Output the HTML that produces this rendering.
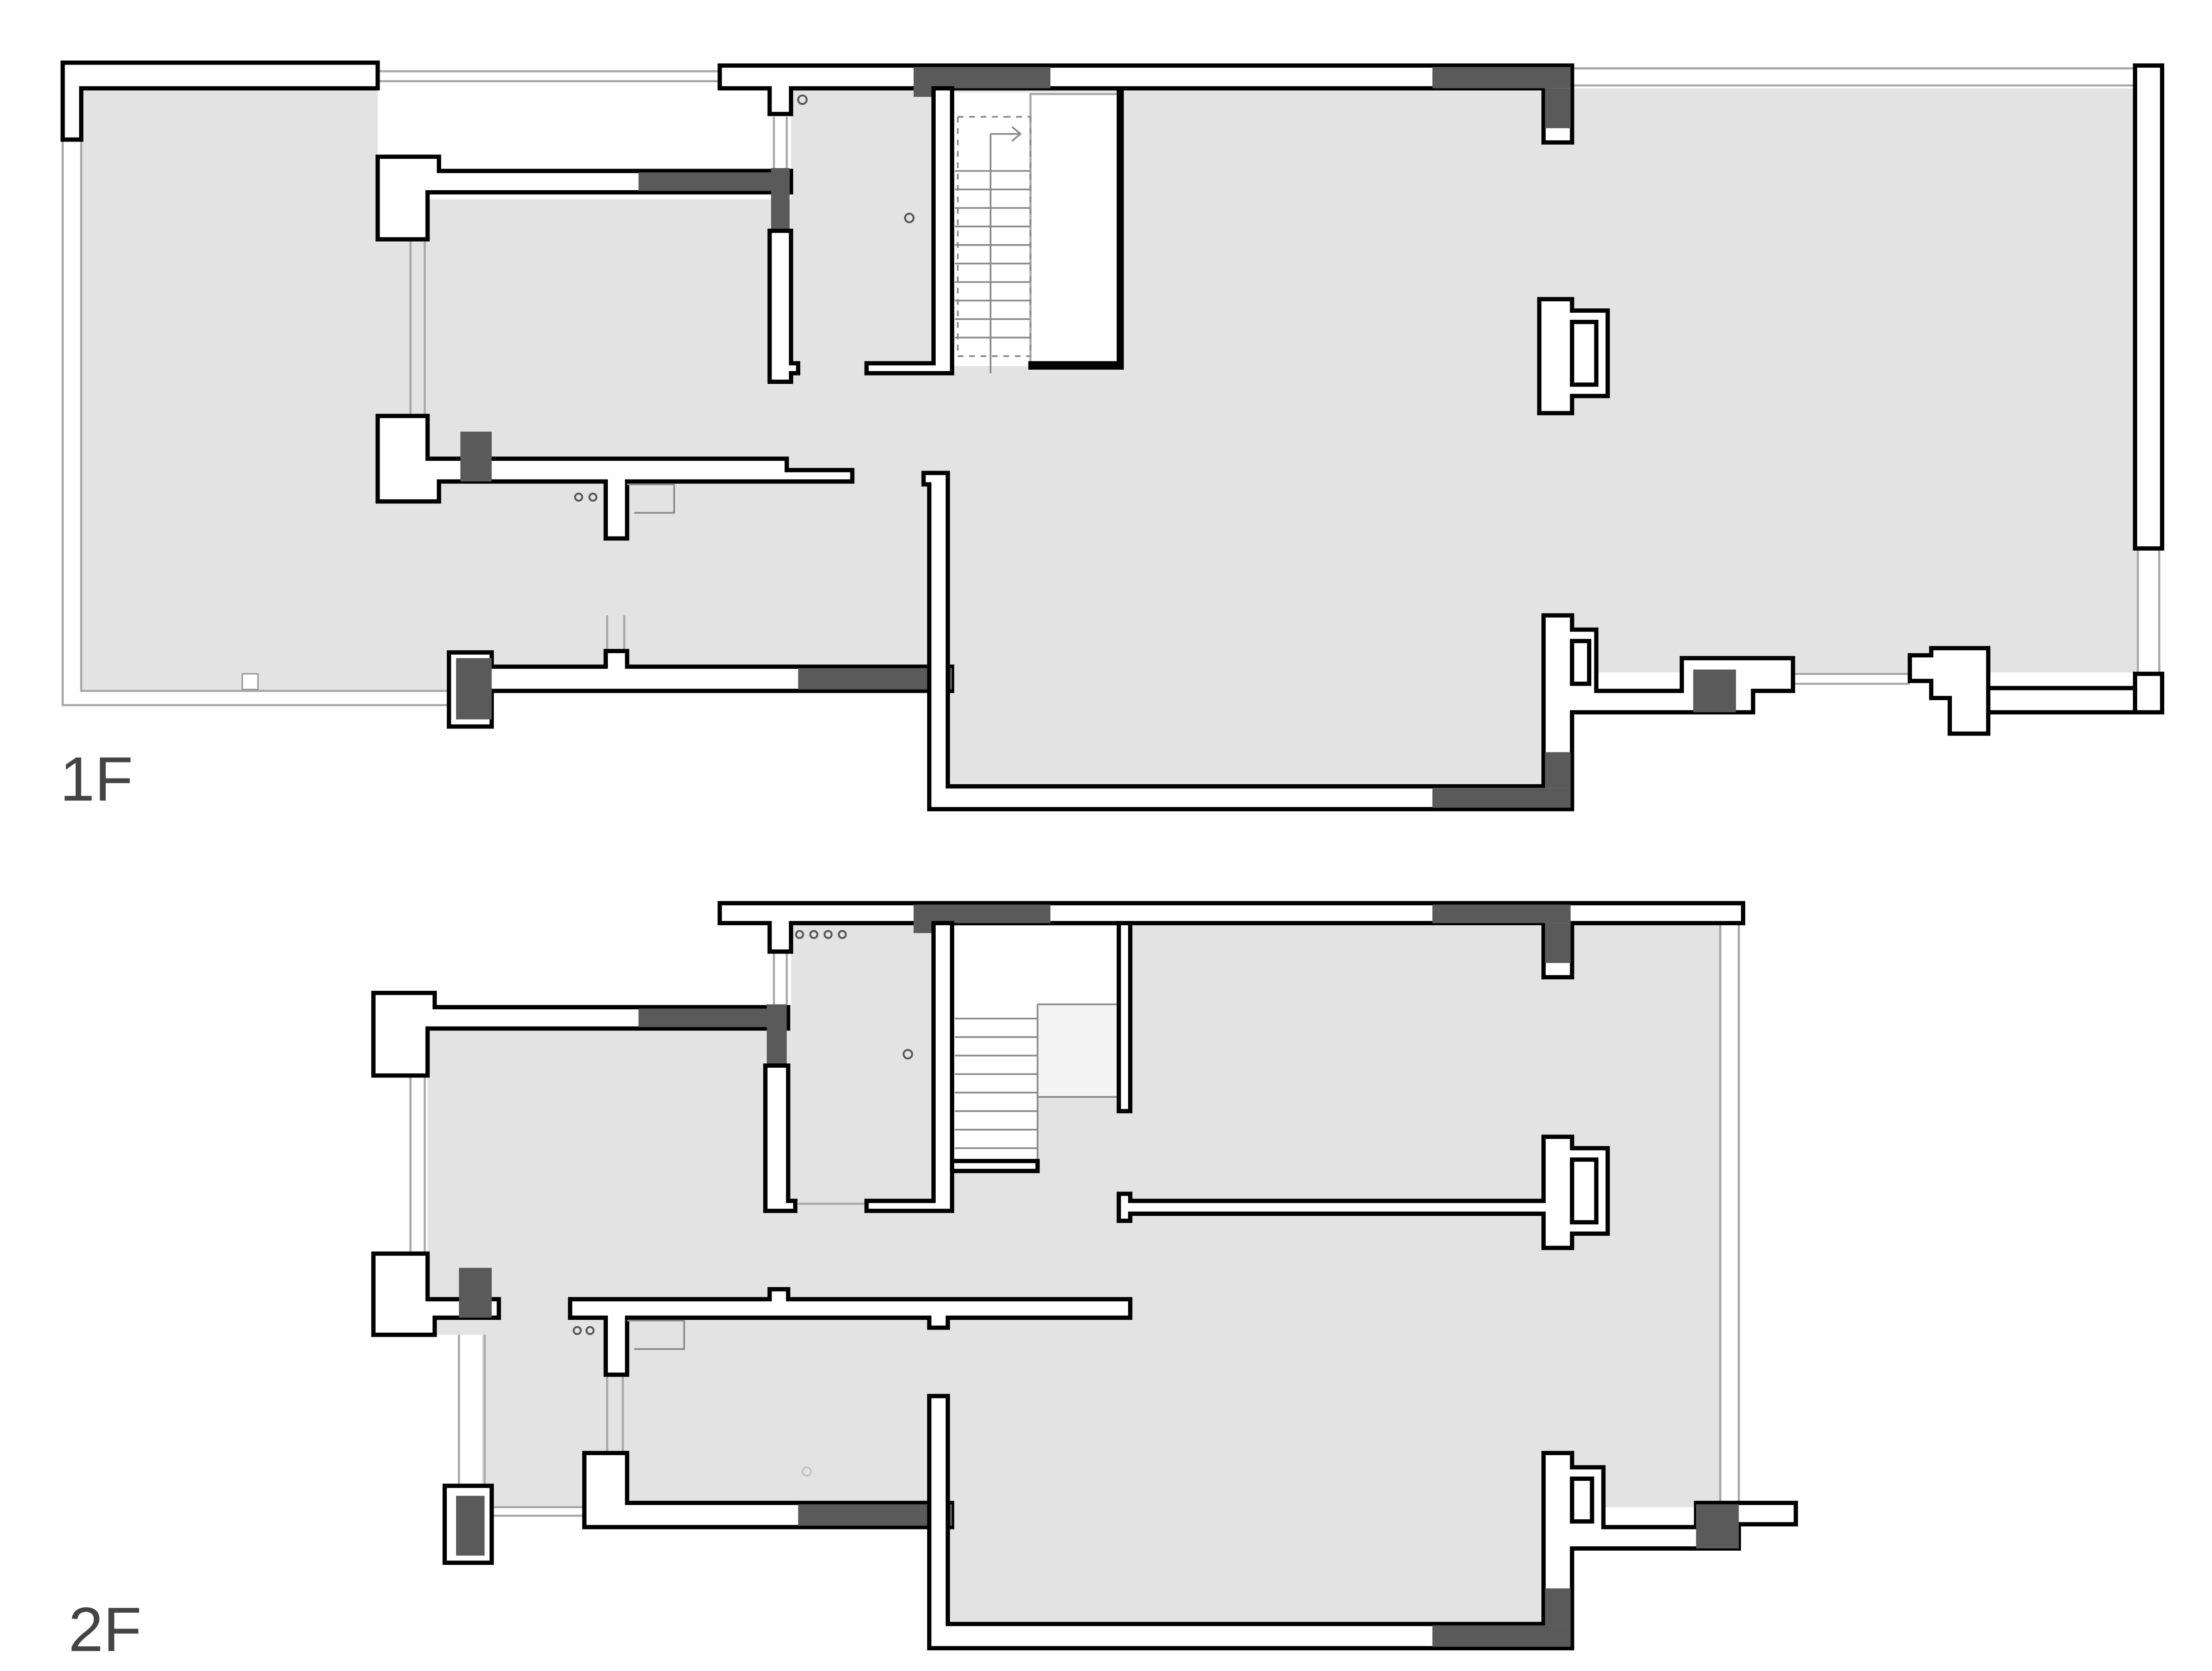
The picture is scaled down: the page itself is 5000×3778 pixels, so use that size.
<!DOCTYPE html>
<html><head><meta charset="utf-8"><style>
html,body{margin:0;padding:0;background:#fff;}
svg{display:block;}
.w{fill:#fff;stroke:#000;stroke-width:3;stroke-linejoin:miter;}
.d{fill:#5a5a5a;stroke:none;}
.g{fill:#e3e3e3;stroke:none;}
.t{stroke:#a8a8a8;stroke-width:1.5;fill:none;}
.s{stroke:#8a8a8a;stroke-width:1.2;fill:none;}
.c{fill:none;stroke:#555;stroke-width:1.3;}
</style></head><body>
<svg width="5000" height="3778" viewBox="0 0 1552 1173" preserveAspectRatio="none" xmlns="http://www.w3.org/2000/svg">
<rect width="1552" height="1173" fill="#fff"/>
<!-- ============ 1F ============ -->
<rect class="g" x="57" y="62" width="208" height="423"/>
<rect class="g" x="57" y="140" width="263" height="345"/>
<rect class="g" x="265" y="140" width="395" height="330"/>
<rect class="g" x="555" y="62" width="105" height="205"/>
<rect class="g" x="660" y="62" width="840" height="410"/>
<rect class="g" x="660" y="340" width="425" height="215"/>
<rect x="668" y="65" width="117" height="192" fill="#fff"/>
<!-- thin outer lines -->
<path class="t" d="M44 98V495H315 M57 98V485H315"/>
<path class="t" d="M265 50H505 M265 57H505"/>
<path class="t" d="M1103 48H1500 M1103 60H1500"/>
<path class="t" d="M1500 385V475 M1515 385V475"/>
<path class="t" d="M1258 473H1340 M1258 480H1340"/>
<path class="t" d="M288 168V292 M298 168V292"/>
<path class="t" d="M543 82V118 M552 82V118"/>
<path class="t" d="M426 432V457 M438 432V457"/>
<!-- stair -->
<rect x="723" y="66" width="62" height="190" class="t"/>
<path class="s" d="M672 82H705 M705 82H723" stroke-dasharray="4,4"/>
<path class="s" d="M672 82V250H723 M723 82V250" stroke-dasharray="4,4"/>
<path class="s" d="M695 94H716 M710 89L716 94L710 99 M695 94V262"/>
<g class="s"><path d="M670 120H723 M670 133H723 M670 146H723 M670 159H723 M670 172H723 M670 185H723 M670 198H723 M670 211H723 M670 224H723 M670 237H723"/></g>
<!-- walls -->
<polygon class="w" points="44,44 265,44 265,62 57,62 57,98 44,98"/>
<polygon class="w" points="505,46 1103,46 1103,100 1083,100 1083,62 555,62 555,80 540,80 540,62 505,62"/>
<polygon class="d" points="641,47 737,47 737,62 660,62 660,68 641,68"/>
<rect class="d" x="1005" y="47" width="97" height="15"/>
<rect class="d" x="1084" y="62" width="18" height="28"/>
<rect class="w" x="1498" y="46" width="19" height="339"/>
<polygon class="w" points="1395,483 1498,483 1498,473 1517,473 1517,500 1395,500"/>
<path d="M1498 483V500" stroke="#000" stroke-width="3"/>
<polygon class="w" points="265,110 308,110 308,120 555,120 555,135 300,135 300,168 265,168"/>
<rect class="d" x="448" y="121" width="106" height="13"/>
<rect class="d" x="541" y="118" width="13" height="44"/>
<polygon class="w" points="540,162 555,162 555,255 560,255 560,262 555,262 555,268 540,268"/>
<polygon class="w" points="655,62 668,62 668,262 608,262 608,255 655,255"/>
<polygon class="w" points="723,255 785,255 785,65 787,65 787,258 723,258"/>
<polygon class="w" points="265,292 300,292 300,322 552,322 552,330 598,330 598,338 440,338 440,378 425,378 425,338 308,338 308,352 265,352"/>
<rect class="d" x="323" y="303" width="22" height="35"/>
<path class="s" d="M440 340H473V360H445" />
<circle class="c" cx="406" cy="349" r="2.5"/><circle class="c" cx="416" cy="349" r="2.5"/>
<polygon class="w" points="315,458 345,458 345,468 425,468 425,457 440,457 440,468 668,468 668,485 345,485 345,510 315,510"/>
<rect class="d" x="320" y="462" width="25" height="43"/>
<rect class="d" x="560" y="469" width="108" height="15"/>
<polygon class="w" points="648,332 665,332 665,552 1083,552 1083,432 1103,432 1103,442 1120,442 1120,485 1180,485 1180,462 1258,462 1258,485 1230,485 1230,500 1103,500 1103,568 652,568 652,340 648,340"/>
<rect class="d" x="1005" y="553" width="97" height="14"/>
<rect class="d" x="1084" y="528" width="18" height="25"/>
<rect class="d" x="1188" y="470" width="30" height="30"/>
<rect class="w" x="1103" y="450" width="12" height="30"/>
<polygon class="w" points="1080,210 1103,210 1103,218 1128,218 1128,278 1103,278 1103,290 1080,290"/>
<rect class="w" x="1103" y="226" width="17" height="44"/>
<polygon class="w" points="1340,460 1355,460 1355,455 1395,455 1395,515 1368,515 1368,490 1355,490 1355,478 1340,478"/>
<rect x="170" y="473" width="11" height="11" fill="#fff" stroke="#999" stroke-width="1"/>
<circle class="c" cx="638" cy="153" r="3"/><circle class="c" cx="563" cy="70" r="3"/>
<text x="42" y="562" font-family="Liberation Sans, sans-serif" font-size="44" fill="#444">1F</text>

<!-- ============ 2F ============ -->
<rect class="g" x="300" y="722" width="352" height="215"/>
<rect class="g" x="338" y="925" width="314" height="133"/>
<rect class="g" x="555" y="648" width="652" height="410"/>
<rect class="g" x="652" y="1058" width="451" height="82"/>
<rect x="668" y="650" width="117" height="55" fill="#fff"/>
<rect x="668" y="705" width="60" height="112" fill="#fff"/>
<rect x="728" y="705" width="57" height="65" fill="#f4f4f4"/>
<g class="s"><path d="M670 715H728 M670 728H728 M670 741H728 M670 754H728 M670 767H728 M670 780H728 M670 793H728 M670 806H728 M728 705V815 M728 705H785 M728 770H785"/></g>
<path class="t" d="M1207 648V1058 M1220 648V1058"/>
<path class="t" d="M288 755V880 M298 755V880"/>
<path class="t" d="M543 668V705 M552 668V705"/>
<path class="t" d="M322 937V1043 M340 937V1043"/>
<path class="t" d="M345 1058H410 M345 1064H410"/>
<path class="t" d="M426 965V1020 M437 965V1020"/>
<path class="t" d="M560 845H608"/>
<polygon class="w" points="505,634 1223,634 1223,648 1103,648 1103,686 1083,686 1083,648 555,648 555,668 540,668 540,648 505,648"/>
<polygon class="d" points="641,635 737,635 737,648 660,648 660,655 641,655"/>
<rect class="d" x="1005" y="635" width="97" height="13"/>
<rect class="d" x="1084" y="648" width="18" height="28"/>
<polygon class="w" points="655,648 668,648 668,850 608,850 608,843 655,843"/>
<rect class="w" x="668" y="815" width="60" height="7"/>
<rect class="w" x="785" y="648" width="8" height="132"/>
<polygon class="w" points="262,697 305,697 305,707 553,707 553,722 300,722 300,755 262,755"/>
<rect class="d" x="448" y="708" width="104" height="13"/>
<rect class="d" x="538" y="705" width="14" height="43"/>
<polygon class="w" points="537,748 553,748 553,843 558,843 558,850 537,850"/>
<polygon class="w" points="262,880 300,880 300,912 350,912 350,925 305,925 305,937 262,937"/>
<rect class="d" x="322" y="890" width="23" height="35"/>
<polygon class="w" points="400,912 540,912 540,905 553,905 553,912 793,912 793,925 665,925 665,932 652,932 652,925 440,925 440,965 425,965 425,925 400,925"/>
<path class="s" d="M440 927H480V947H445"/>
<circle class="c" cx="405" cy="934" r="2.5"/><circle class="c" cx="414" cy="934" r="2.5"/>
<polygon class="w" points="785,838 793,838 793,843 1083,843 1083,798 1103,798 1103,806 1128,806 1128,866 1103,866 1103,876 1083,876 1083,852 793,852 793,857 785,857"/>
<rect class="w" x="1103" y="814" width="17" height="44"/>
<polygon class="w" points="410,1020 440,1020 440,1055 668,1055 668,1072 410,1072"/>
<rect class="d" x="560" y="1056" width="108" height="15"/>
<rect class="w" x="312" y="1043" width="33" height="54"/>
<rect class="d" x="320" y="1050" width="20" height="42"/>
<polygon class="w" points="652,980 665,980 665,1140 1083,1140 1083,1020 1103,1020 1103,1030 1125,1030 1125,1072 1190,1072 1190,1055 1260,1055 1260,1070 1220,1070 1220,1087 1103,1087 1103,1157 652,1157"/>
<rect class="d" x="1005" y="1141" width="97" height="15"/>
<rect class="d" x="1084" y="1115" width="18" height="26"/>
<rect class="d" x="1190" y="1056" width="30" height="31"/>
<rect class="w" x="1103" y="1038" width="14" height="30"/>
<circle class="c" cx="637" cy="740" r="3"/>
<circle class="c" cx="561" cy="656" r="2.5"/><circle class="c" cx="571" cy="656" r="2.5"/><circle class="c" cx="581" cy="656" r="2.5"/><circle class="c" cx="591" cy="656" r="2.5"/>
<circle cx="566" cy="1033" r="3" fill="none" stroke="#bbb" stroke-width="1"/>
<text x="48" y="1159" font-family="Liberation Sans, sans-serif" font-size="44" fill="#444">2F</text>
</svg>
</body></html>
